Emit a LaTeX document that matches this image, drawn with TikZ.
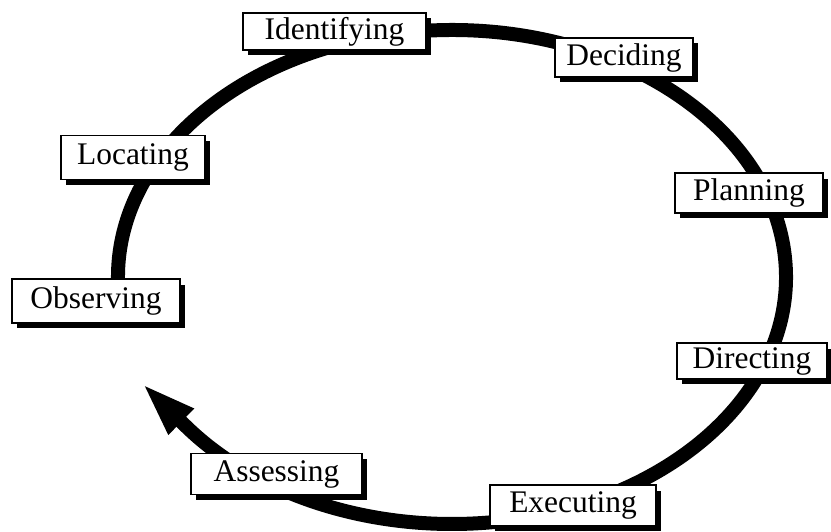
\documentclass[tikz,border=0pt]{standalone}
\usepackage{fontspec}
\setmainfont{Liberation Serif}
\usetikzlibrary{arrows.meta, shadows}
\tikzset{
    % Stage boxes - white with solid black drop shadow
    stagebox/.style={
        rectangle,
        draw=black,
        fill=white,
        line width=1.1pt,
        inner sep=0pt,
        text centered,
        font=\fontsize{17.9}{20}\selectfont,
        drop shadow={shadow xshift=0.1cm, shadow yshift=-0.11cm, fill=black, opacity=1}
    },
    % Cycle arrow
    cyclearrow/.style={
        line width=0.28cm,
        black,
        -{Triangle[length=1.12cm, width=0.64cm]}
    }
}

\begin{document}
\begin{tikzpicture}[x=0.02cm, y=0.02cm]
    \useasboundingbox (0,0) rectangle (831,531);

    % Cycle (drawn first, boxes sit on it)
    \coordinate (ctr) at (452,254);
    \draw[cyclearrow] (ctr) ++(184:334 and 247)
        arc[start angle=184, end angle=-143, x radius=334, y radius=247]
        -- ++(-44,43);

    % Stages
    \node[stagebox, minimum width=3.66cm, minimum height=0.74cm] (identifying) at (334.5,499.5) {Identifying};
    \node[stagebox, minimum width=2.76cm, minimum height=0.78cm] (deciding) at (624,473.5) {Deciding};
    \node[stagebox, minimum width=2.88cm, minimum height=0.88cm] (locating) at (133,373.5) {Locating};
    \node[stagebox, minimum width=2.96cm, minimum height=0.80cm] (planning) at (749,338) {Planning};
    \node[stagebox, minimum width=3.36cm, minimum height=0.88cm] (observing) at (96,230) {Observing};
    \node[stagebox, minimum width=3.00cm, minimum height=0.72cm] (directing) at (752,170) {Directing};
    \node[stagebox, minimum width=3.42cm, minimum height=0.82cm] (assessing) at (276.5,57) {Assessing};
    \node[stagebox, minimum width=3.32cm, minimum height=0.82cm] (executing) at (573,25.5) {Executing};
\end{tikzpicture}
\end{document}
